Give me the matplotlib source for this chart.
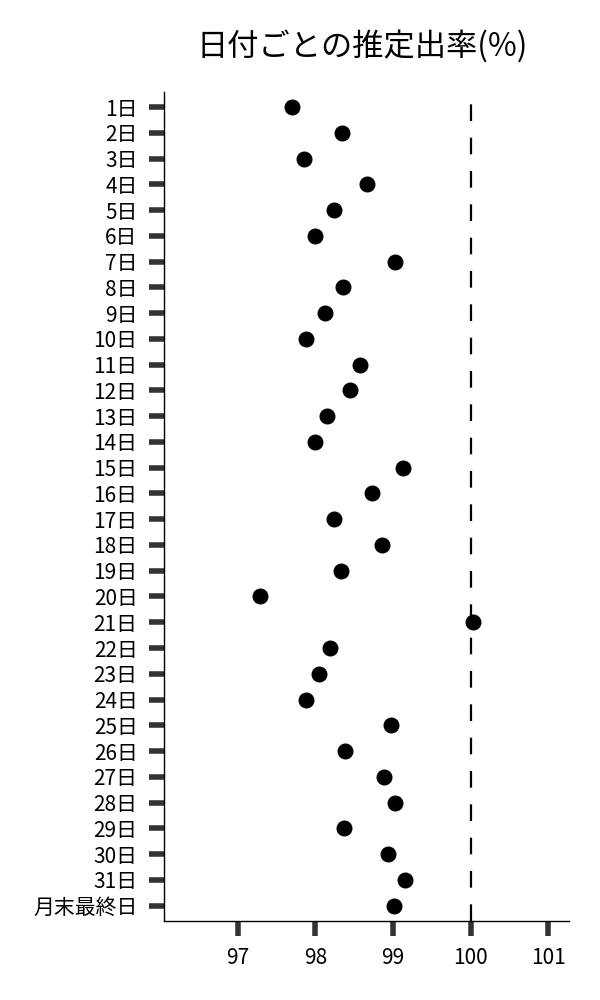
import matplotlib
matplotlib.use("Agg")
import matplotlib.pyplot as plt

# フォント設定
plt.rcParams["font.family"] = ["Noto Sans CJK JP", "DejaVu Sans"]

# データ
days = [f"{i}日" for i in range(1, 32)] + ["月末最終日"]
rates = [97.70, 98.34, 97.85, 98.67, 98.24, 97.99, 99.03, 98.36, 98.13, 97.88,
         98.57, 98.44, 98.15, 97.99, 99.13, 98.73, 98.24, 98.86, 98.33, 97.29,
         100.03, 98.19, 98.05, 97.88, 98.97, 98.38, 98.89, 99.02, 98.37, 98.94,
         99.16, 99.01]
ref_line = 100
x_ticks = [97, 98, 99, 100, 101]

fig = plt.figure(figsize=(6, 10), dpi=100)
ax = fig.add_axes([0.2733, 0.079, 0.6755, 0.8293])

ypos = list(range(len(days)))
ax.plot(rates, ypos, "o", color="black", markersize=10.5, zorder=3)
ax.axvline(ref_line, color="black", linewidth=1.6, dashes=(7.5, 7.5), zorder=2)

ax.set_yticks(ypos)
ax.set_yticklabels(days)
ax.set_ylim(len(days) - 1 + 0.6, -0.6)
ax.set_xticks(x_ticks)
ax.set_xlim(96.05, 101.27)

ax.tick_params(axis="both", length=11, width=4, color="#333333", pad=8,
               labelsize=15)

for side in ["top", "right"]:
    ax.spines[side].set_visible(False)
for side in ["left", "bottom"]:
    ax.spines[side].set_linewidth(1.0)

ax.set_title("日付ごとの推定出率(%)", fontsize=22.5, pad=26, x=0.489)

fig.savefig("out.png", dpi=100)
